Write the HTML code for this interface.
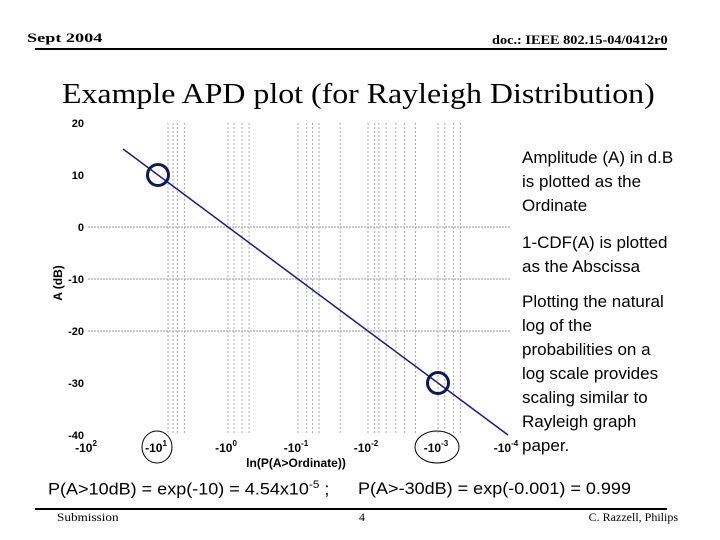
<!DOCTYPE html>
<html><head><meta charset="utf-8"><style>
body{margin:0;background:#fff}
#root{position:relative;width:720px;height:540px;overflow:hidden;font-family:"Liberation Sans",sans-serif}
.t{position:absolute;white-space:nowrap}
.n{position:absolute;font:17px/24px 'Liberation Sans',sans-serif;left:522px;white-space:nowrap}
</style></head><body>
<div id="root">
<div class="t" style="left:27px;top:30px;font:bold 13px 'Liberation Serif',serif;transform:scaleX(1.4);transform-origin:left">Sept 2004</div>
<div class="t" style="right:52px;top:32px;font:bold 13px 'Liberation Serif',serif;transform:scaleX(1.1);transform-origin:right">doc.: IEEE 802.15-04/0412r0</div>
<div style="position:absolute;left:35px;top:48px;width:632px;height:2px;background:#000"></div>
<div class="t" style="left:62px;top:78px;font:29px 'Liberation Serif',serif;transform:scaleX(1.1);transform-origin:left">Example APD plot (for Rayleigh Distribution)</div>
<div class="n" style="top:146px">Amplitude (A) in d.B<br>is plotted as the<br>Ordinate</div>
<div class="n" style="top:231px">1-CDF(A) is plotted<br>as the Abscissa</div>
<div class="n" style="top:290px">Plotting the natural<br>log of the<br>probabilities on a<br>log scale provides<br>scaling similar to<br>Rayleigh graph<br>paper.</div>
<div class="t" style="left:48px;top:479px;font:17px 'Liberation Sans',sans-serif;transform:scaleX(1.06);transform-origin:left">P(A&gt;10dB) = exp(-10) = 4.54x10<sup style="font-size:11px">-5</sup> ;</div>
<div class="t" style="left:358px;top:479px;font:17px 'Liberation Sans',sans-serif;transform:scaleX(1.06);transform-origin:left">P(A&gt;-30dB) = exp(-0.001) = 0.999</div>
<div style="position:absolute;left:35px;top:508px;width:632px;height:2px;background:#000"></div>
<div class="t" style="left:57px;top:510px;font:12px 'Liberation Serif',serif;transform:scaleX(1.1);transform-origin:left">Submission</div>
<div class="t" style="left:359px;top:510px;font:12px 'Liberation Serif',serif">4</div>
<div class="t" style="right:42px;top:510px;font:12px 'Liberation Serif',serif">C. Razzell, Philips</div>
<svg id="chart" width="720" height="540" style="position:absolute;left:0;top:0"></svg>
</div>
<script>
const yTicks=[20,10,0,-10,-20,-30,-40];
const hGrid=[0,-10,-20];
const xTickExp=[2,1,0,-1,-2,-3,-4];
const vGrid=[7.2,6.1,5.3,4.2,1,0.82,0.63,0.5,0.1,0.075,0.062,0.05,0.025,0.01,0.008,0.007,0.0055,0.004,0.003,0.0021,0.001,0.0008,0.0006,0.00048];
const lineMag=[31.6,0.0001];
const circleMag=[10,0.001];
const ringedTicks=[1,-3];
const NS="http://www.w3.org/2000/svg";
const svg=document.getElementById('chart');
const X0=88,DEC=70,Y0=227,DB=5.2,TOP=123,BOT=435;
function xs(m){return X0+DEC*(2-Math.log10(m));}
function ys(a){return Y0-a*DB;}
function mk(t,a){const e=document.createElementNS(NS,t);for(const k in a)e.setAttribute(k,a[k]);svg.appendChild(e);return e;}
vGrid.forEach(m=>{const e=mk('line',{x1:xs(m),x2:xs(m),y1:TOP,y2:BOT,stroke:'#aaa','stroke-width':1,'stroke-dasharray':'2,2'});

});
hGrid.forEach(a=>{const e=mk('line',{x1:X0,x2:510,y1:ys(a),y2:ys(a),stroke:'#999','stroke-width':1,'stroke-dasharray':'2,1'});

});
yTicks.forEach(a=>{const e=mk('text',{x:84,y:ys(a)+4,'text-anchor':'end','font-size':11,'font-weight':'bold','font-family':'Liberation Sans'});e.textContent=a;

});
xTickExp.forEach(p=>{const x=xs(Math.pow(10,p));const e=mk('text',{x:x-2,y:452,'text-anchor':'middle','font-size':12,'font-weight':'bold','font-family':'Liberation Sans'});
e.innerHTML='-10<tspan dy="-6" font-size="8">'+p+'</tspan>';

});
ringedTicks.forEach(p=>{const e=mk('ellipse',{cx:xs(Math.pow(10,p))-1,cy:447,rx:p===1?15:22,ry:16,fill:'none',stroke:'#000','stroke-width':1});

});
let t=mk('text',{x:296,y:467,'text-anchor':'middle','font-size':12,'font-weight':'bold','font-family':'Liberation Sans'});t.textContent='ln(P(A>Ordinate))';


t=mk('text',{x:62,y:283,'text-anchor':'middle','font-size':12,'font-weight':'bold','font-family':'Liberation Sans',transform:'rotate(-90 62 283)'});t.textContent='A (dB)';


const l=mk('line',{x1:xs(lineMag[0]),y1:ys(10*Math.log10(lineMag[0])),x2:xs(lineMag[1]),y2:ys(10*Math.log10(lineMag[1])),stroke:'#1a1a8c','stroke-width':1.5});


circleMag.forEach(m=>{const e=mk('circle',{cx:xs(m),cy:ys(10*Math.log10(m)),r:10.5,fill:'none',stroke:'#0c1a5c','stroke-width':3});

});
</script>
</body></html>
